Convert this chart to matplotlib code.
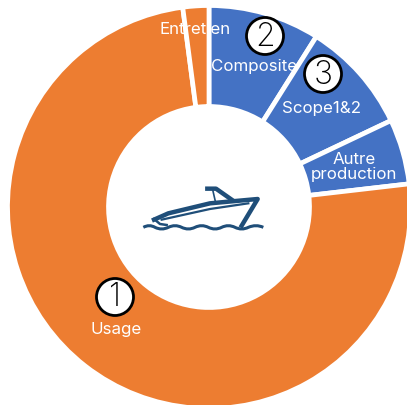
import matplotlib
matplotlib.use("Agg")
import matplotlib.pyplot as plt
from matplotlib.patches import Circle
from matplotlib.path import Path
from matplotlib.patches import PathPatch

plt.rcParams['font.family'] = ['Inter', 'DejaVu Sans']

W, H = 407, 406
categories = ["Composite", "Scope1&2", "Autre\nproduction", "Usage", "Entretien"]
values = [32.2, 32.4, 18.8, 269.1, 7.5]
colors = ["#4472C4", "#4472C4", "#4472C4", "#ED7D31", "#ED7D31"]
label_pos = [(254, 66), (322, 108), (354, 167), (116, 330), (195, 29)]
badges = [("1", 115, 298), ("2", 265, 37), ("3", 323, 75)]
NAVY = "#1F4E79"

fig = plt.figure(figsize=(W / 100, H / 100), dpi=100)
ax = fig.add_axes([0, 0, 1, 1])
ax.set_xlim(0, W)
ax.set_ylim(H, 0)
ax.axis("off")

# inverted y axis: counterclock=True draws clockwise on screen
ax.pie(values, colors=colors, center=(209, 208), radius=201.5, startangle=-90,
       counterclock=True, frame=False,
       wedgeprops=dict(width=101, edgecolor="white", linewidth=3.4))
ax.set_xlim(0, W)
ax.set_ylim(H, 0)
ax.set_aspect("equal")

for name, (x, y) in zip(categories, label_pos):
    ax.text(x, y, name, color="white", fontsize=12.2, ha="center", va="center",
            linespacing=1.0)

for digit, x, y in badges:
    ax.add_patch(Circle((x, y), 18.5, facecolor="white", edgecolor="black", linewidth=2, zorder=5))
    ax.text(x, y, digit, color="black", fontsize=23, ha="center", va="center",
            fontweight="light", zorder=6)

# boat icon, traced in pixel coordinates
def Z(pts):
    return [(130 + a / 3, 170 + b / 3) for a, b in pts]

hull = Z([(72, 152), (115, 133), (240, 103), (383, 90), (335, 170)])
ax.plot(*zip(*hull), color=NAVY, lw=3.2, solid_joinstyle="round", zorder=4)
stripe = Z([(95, 152), (240, 120), (355, 103)])
ax.plot(*zip(*stripe), color=NAVY, lw=1.6, zorder=4)
stern = Z([(72, 150), (90, 165), (110, 168)])
ax.plot(*zip(*stern), color=NAVY, lw=1.8, zorder=4)
screen = Z([(232, 59), (258, 59), (305, 92)])
ax.plot(*zip(*screen), color=NAVY, lw=3.2, zorder=4)
post = Z([(248, 62), (256, 97)])
ax.plot(*zip(*post), color=NAVY, lw=1.2, zorder=4)

wave_xy = Z([(40, 175), (58, 165), (75, 175), (95, 185), (115, 175), (135, 165), (155, 175),
             (175, 185), (195, 175), (215, 165), (235, 175), (255, 185), (275, 175),
             (295, 165), (315, 175), (335, 185), (355, 175), (378, 165), (400, 175)])
codes = [Path.MOVETO] + [Path.CURVE3] * (len(wave_xy) - 1)
ax.add_patch(PathPatch(Path(wave_xy, codes), facecolor="none", edgecolor=NAVY, lw=2.2, zorder=4))

fig.savefig("out.png", dpi=100)
